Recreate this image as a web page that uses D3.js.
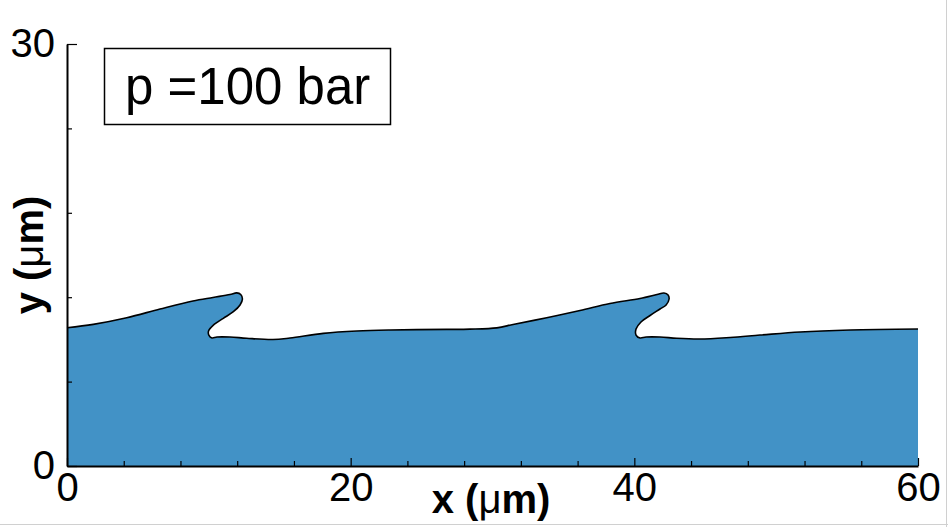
<!DOCTYPE html>
<html>
<head>
<meta charset="utf-8">
<script src="https://cdn.jsdelivr.net/npm/d3@7/dist/d3.min.js"></script>
<style>
  html, body { margin: 0; padding: 0; background: #fff; }
  svg { display: block; }
  text { font-family: "Liberation Sans", Arial, Helvetica, sans-serif; }
</style>
</head>
<body>
<svg id="chart" width="948" height="527"></svg>
<script>
// ---- data (µm) ----
const interfaceX = [0.00, 1.85, 4.21, 6.56, 8.88, 10.29, 11.49, 11.97, 12.25, 12.37, 12.20, 11.73, 11.02, 10.32, 9.98, 10.01, 10.22, 10.58, 11.49, 12.67, 14.52, 15.72, 18.07, 20.43, 22.77, 26.77, 28.41, 30.30,
  31.45, 33.82, 36.17, 38.28, 40.40, 41.60, 42.09, 42.38, 42.45, 42.24, 41.81, 41.11, 40.47, 40.12, 40.12, 40.40, 40.83, 41.81, 42.99, 44.63, 46.75, 48.86, 51.68, 55.21, 60.00];
const interfaceY = [9.83, 10.07, 10.54, 11.16, 11.73, 11.98, 12.19, 12.31, 12.19, 11.87, 11.45, 10.97, 10.50, 10.02, 9.60, 9.28, 9.10, 9.17, 9.17, 9.08, 8.99, 9.10, 9.43, 9.60, 9.67, 9.71, 9.73, 9.82,
  10.06, 10.54, 11.05, 11.55, 11.91, 12.19, 12.30, 12.16, 11.87, 11.45, 11.16, 10.70, 10.24, 9.74, 9.31, 9.10, 9.17, 9.17, 9.08, 9.03, 9.14, 9.31, 9.53, 9.67, 9.74];
const xMajorTicks = [0, 20, 40, 60];
const xMinorTicks = [4, 8, 12, 16, 24, 28, 32, 36, 44, 48, 52, 56];
const yMajorTicks = [0, 30];
const yMinorTicks = [6, 12, 18, 24];
const xDomain = [0, 60];
const yDomain = [0, 30];
const legendText = "p =100 bar";

// ---- layout ----
const svg = d3.select("#chart");
const x = d3.scaleLinear().domain(xDomain).range([67, 918]);
const y = d3.scaleLinear().domain(yDomain).range([466, 44]);
const fillColor = "#4292c6";

// faint frame at image edges
svg.append("line").attr("x1", 946.5).attr("x2", 946.5).attr("y1", 0).attr("y2", 527).attr("stroke", "#d0d0d0").attr("stroke-width", 1);
svg.append("line").attr("x1", 0).attr("x2", 948).attr("y1", 524.5).attr("y2", 524.5).attr("stroke", "#d0d0d0").attr("stroke-width", 1);

const pts = interfaceX.map((v, i) => [v, interfaceY[i]]);
const line = d3.line().x(d => x(d[0])).y(d => y(d[1])).curve(d3.curveCatmullRom.alpha(0.5));
const linePath = line(pts);

// filled liquid region
svg.append("path")
  .attr("d", linePath + `L${x(xDomain[1])},${y(0)}L${x(xDomain[0])},${y(0)}Z`)
  .attr("fill", fillColor)
  .attr("stroke", "none");

// interface line
svg.append("path")
  .attr("d", linePath)
  .attr("fill", "none")
  .attr("stroke", "#000")
  .attr("stroke-width", 1.6)
  .attr("stroke-linejoin", "round");

// axes
function styleAxis(g, fs) {
  g.selectAll("path.domain").attr("stroke", "#000").attr("stroke-width", 2);
  g.selectAll(".tick line").attr("stroke", "#000").attr("stroke-width", 1.2);
  g.selectAll("text").attr("font-size", fs).attr("fill", "#000")
    .style("font-family", '"Liberation Sans", Arial, sans-serif');
}
const gxMinor = svg.append("g").attr("transform", `translate(0,${y(0)})`)
  .call(d3.axisBottom(x).tickValues(xMinorTicks).tickSize(-5).tickFormat("").tickSizeOuter(0));
styleAxis(gxMinor, 40);
gxMinor.select("path.domain").remove();
const gx = svg.append("g").attr("transform", `translate(0,${y(0)})`)
  .call(d3.axisBottom(x).tickValues(xMajorTicks).tickSize(-8).tickSizeOuter(0).tickPadding(7).tickFormat(d3.format("d")));
styleAxis(gx, 40);

const gyMinor = svg.append("g").attr("transform", `translate(${x(0)},0)`)
  .call(d3.axisLeft(y).tickValues(yMinorTicks).tickSize(-5).tickFormat("").tickSizeOuter(0));
styleAxis(gyMinor, 40);
gyMinor.select("path.domain").remove();
const gy = svg.append("g").attr("transform", `translate(${x(0)},0)`)
  .call(d3.axisLeft(y).tickValues(yMajorTicks).tickSize(-10).tickSizeOuter(0).tickPadding(12).tickFormat(d3.format("d")));
styleAxis(gy, 40);

// axis titles
const xt = svg.append("text").attr("x", 491).attr("y", 513).attr("text-anchor", "middle")
  .attr("font-size", 40).attr("font-weight", "bold");
xt.append("tspan").text("x (");
xt.append("tspan").attr("font-weight", "normal").text("μ");
xt.append("tspan").text("m)");

const yt = svg.append("text").attr("transform", "translate(43,255) rotate(-90)").attr("text-anchor", "middle")
  .attr("font-size", 40).attr("font-weight", "bold");
yt.append("tspan").text("y (");
yt.append("tspan").attr("font-weight", "normal").text("μ");
yt.append("tspan").text("m)");

// legend box
svg.append("rect").attr("x", 104.5).attr("y", 48.5).attr("width", 286).attr("height", 76)
  .attr("fill", "#fff").attr("stroke", "#000").attr("stroke-width", 1.5);
svg.append("text").attr("x", 125).attr("y", 104).attr("font-size", 51).attr("fill", "#000").text(legendText);
</script>
</body>
</html>
